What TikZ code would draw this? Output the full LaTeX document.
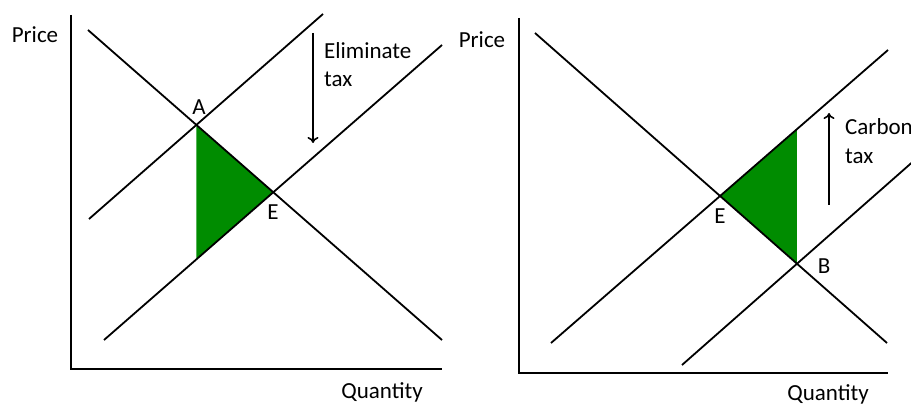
\documentclass[tikz,border=0pt]{standalone}
\usepackage{fontspec}
\setmainfont{Carlito}
\usetikzlibrary{intersections,arrows.meta}
\definecolor{dwl}{RGB}{0,140,0}
\tikzset{
  curve/.style={line width=1.8pt, black},
  axis/.style={line width=2.1pt, black},
  lbl/.style={font=\fontsize{23}{23}\selectfont, inner sep=0pt},
  shift arrow/.style={line width=1.7pt, -{To[length=6pt,width=11pt,line width=1.6pt]}}
}
\begin{document}
\begin{tikzpicture}[x=1pt,y=-1pt]
\useasboundingbox (0,0) rectangle (911,406);
% ---------- left panel ----------
\coordinate (lorig) at (71,369);
\coordinate (ltop) at (71,15);
\coordinate (lright) at (442,369);
\coordinate (ld1) at (88,30);
\coordinate (ld2) at (442,340);
\coordinate (lst1) at (89,219);
\coordinate (lst2) at (323,14);
\coordinate (ls1) at (104,340);
\coordinate (ls2) at (442,45);
\path[name path=ldem] (ld1) -- (ld2);
\path[name path=ltax] (lst1) -- (lst2);
\path[name path=lsup] (ls1) -- (ls2);
\path[name intersections={of=ldem and ltax, by=A}];
\path[name intersections={of=ldem and lsup, by=LE}];
\path[name path=lvert] (A) -- ++(0,200);
\path[name intersections={of=lvert and lsup, by=Lbot}];
\fill[dwl] (A) -- (LE) -- (Lbot) -- cycle;
\draw[axis] (ltop) -- (lorig) -- (lright);
\draw[curve] (ld1) -- (ld2);
\draw[curve] (lst1) -- (lst2);
\draw[curve] (ls1) -- (ls2);
\node[lbl, anchor=base] (lprice) at (35,43) {Price};
\node[lbl, anchor=base] (lqty) at (382,398) {Quantity};
\node[lbl, anchor=base] (Alab) at (199,115) {A};
\node[lbl, anchor=base] (Elab) at (273,220) {E};
\node[lbl, anchor=base west] (elim) at (324,59) {Eliminate};
\node[lbl, anchor=base west] (ltaxt) at (324,87) {tax};
\coordinate (la1) at (313,33);
\coordinate (la2) at (313,143);
\draw[shift arrow] (la1) -- (la2);
% ---------- right panel ----------
\coordinate (rorig) at (519,373);
\coordinate (rtop) at (519,18);
\coordinate (rright) at (888,373);
\coordinate (rd1) at (535,33);
\coordinate (rd2) at (887,343);
\coordinate (rs1) at (551,343);
\coordinate (rs2) at (888,50);
\coordinate (rt1) at (682,365);
\coordinate (rt2) at (925,151);
\path[name path=rdem] (rd1) -- (rd2);
\path[name path=rsup] (rs1) -- (rs2);
\path[name path=rtax] (rt1) -- (rt2);
\path[name intersections={of=rdem and rsup, by=RE}];
\path[name intersections={of=rdem and rtax, by=B}];
\path[name path=rvert] (B) -- ++(0,-200);
\path[name intersections={of=rvert and rsup, by=Rtop}];
\fill[dwl] (RE) -- (Rtop) -- (B) -- cycle;
\draw[axis] (rtop) -- (rorig) -- (rright);
\draw[curve] (rd1) -- (rd2);
\draw[curve] (rs1) -- (rs2);
\draw[curve] (rt1) -- (rt2);
\node[lbl, anchor=base] (rprice) at (482,48) {Price};
\node[lbl, anchor=base] (rqty) at (828,400) {Quantity};
\node[lbl, anchor=base] (Elab2) at (720,224) {E};
\node[lbl, anchor=base] (Blab) at (824,274) {B};
\node[lbl, anchor=base west] (carb) at (845,135) {Carbon};
\node[lbl, anchor=base west] (rtaxt) at (845,164) {tax};
\coordinate (ra1) at (829,205);
\coordinate (ra2) at (829,113);
\draw[shift arrow] (ra1) -- (ra2);
\end{tikzpicture}
\end{document}
